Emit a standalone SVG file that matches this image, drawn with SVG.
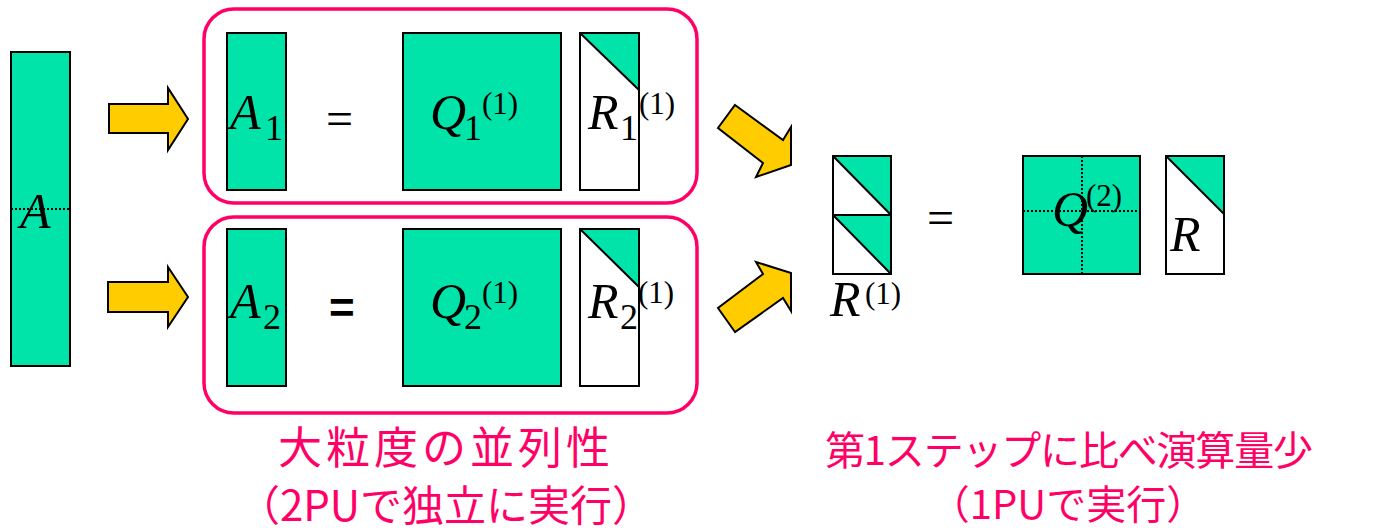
<svg xmlns="http://www.w3.org/2000/svg" width="1400" height="531" viewBox="0 0 1400 531">
<style>
.g{fill:#00E3A9;stroke:#000;stroke-width:2}
.w{fill:#fff;stroke:#000;stroke-width:2}
.t{fill:#00E3A9;stroke:none}
.d{stroke:#000;stroke-width:2}
.o{fill:none;stroke:#000;stroke-width:2}
.dot{stroke:#000;stroke-width:2;stroke-dasharray:2 2;fill:none}
.arr{fill:#FFCC00;stroke:#000;stroke-width:2;stroke-linejoin:miter}
.box{fill:none;stroke:#FF0066;stroke-width:3.5}
.m{font-family:"Liberation Serif",serif;font-style:italic;font-size:50px;fill:#000}
.s{font-family:"Liberation Serif",serif;font-size:36px;fill:#000}
.p{font-family:"Liberation Serif",serif;font-size:31px;fill:#000}
.eq{font-family:"Liberation Serif",serif;font-size:48px;fill:#000}
.eqb{font-family:"Liberation Sans",sans-serif;font-weight:bold;font-size:44px;fill:#000}
.j{font-family:"Noto Sans CJK JP","Noto Sans",sans-serif;font-size:44px;fill:#FF0066;text-anchor:middle}
.j2{font-family:"Noto Sans CJK JP","Noto Sans",sans-serif;font-size:40px;fill:#FF0066;text-anchor:middle}
</style>
<g id="matA">
<rect class="g" x="11" y="52" width="59" height="314"/>
<line class="dot" x1="11" y1="209" x2="70" y2="209"/>
<text class="m" x="20" y="228">A</text>
</g>
<g id="group1">
<rect class="box" x="204" y="9" width="493" height="194" rx="30"/>
<rect class="g" x="227" y="33" width="59" height="157"/>
<text class="m" x="230" y="129">A</text><text class="s" x="265" y="140">1</text>
<text class="eq" x="326" y="135">=</text>
<rect class="g" x="403" y="33" width="158" height="157"/>
<text class="m" x="430" y="129">Q</text><text class="s" x="464" y="140">1</text><text class="p" x="482" y="114">(1)</text>
<rect class="w" x="580" y="33" width="59" height="157"/>
<polygon class="t" points="580,33 639,33 639,90"/>
<line class="d" x1="580" y1="33" x2="639" y2="90"/>
<rect class="o" x="580" y="33" width="59" height="157"/>
<text class="m" x="588" y="129">R</text><text class="s" x="620" y="140">1</text><text class="p" x="639" y="114">(1)</text>
</g>
<g id="group2">
<rect class="box" x="204" y="217" width="493" height="196" rx="30"/>
<rect class="g" x="227" y="229" width="59" height="157"/>
<text class="m" x="230" y="318">A</text><text class="s" x="263" y="329">2</text>
<text class="eqb" x="329" y="323">=</text>
<rect class="g" x="403" y="229" width="158" height="157"/>
<text class="m" x="430" y="318">Q</text><text class="s" x="464" y="329">2</text><text class="p" x="482" y="303">(1)</text>
<rect class="w" x="580" y="229" width="59" height="157"/>
<polygon class="t" points="580,229 639,229 639,287"/>
<line class="d" x1="580" y1="229" x2="639" y2="287"/>
<rect class="o" x="580" y="229" width="59" height="157"/>
<text class="m" x="588" y="318">R</text><text class="s" x="620" y="329">2</text><text class="p" x="638" y="303">(1)</text>
</g>
<g id="connectors">
<polygon class="arr" points="109,104 168,104 168,88 188,119 168,150 168,133 109,133"/>
<polygon class="arr" points="108,282 168,282 168,267 188,297 168,327 168,312 108,312"/>
<polygon class="arr" points="735,105 783,140 791,127 791,165 756,177 763,163 718,128"/>
<polygon class="arr" points="735,332 718,308 763,274 756,262 791,273 791,311 783,298"/>
</g>
<g id="matR1">
<rect class="w" x="833" y="156" width="58" height="118"/>
<polygon class="t" points="833,156 891,156 891,215"/>
<polygon class="t" points="833,215 891,215 891,274"/>
<line class="d" x1="833" y1="156" x2="891" y2="215"/>
<line class="d" x1="833" y1="215" x2="891" y2="274"/>
<line class="d" x1="833" y1="215" x2="891" y2="215"/>
<rect class="o" x="833" y="156" width="58" height="118"/>
<text class="m" x="830" y="316">R</text><text class="p" x="865" y="304">(1)</text>
</g>
<g id="eq3">
<text class="eq" x="927" y="234">=</text>
</g>
<g id="matQ2">
<rect class="g" x="1023" y="156" width="117" height="118"/>
<line class="dot" x1="1082" y1="156" x2="1082" y2="274"/>
<line class="dot" x1="1023" y1="211" x2="1140" y2="211"/>
<text class="m" x="1052" y="226">Q</text><text class="p" x="1086" y="206">(2)</text>
</g>
<g id="matR">
<rect class="w" x="1166" y="156" width="58" height="118"/>
<polygon class="t" points="1166,156 1224,156 1224,214"/>
<line class="d" x1="1166" y1="156" x2="1224" y2="214"/>
<rect class="o" x="1166" y="156" width="58" height="118"/>
<text class="m" x="1170" y="251">R</text>
</g>
<g id="labels">
<text class="j" x="444" y="464" textLength="332" lengthAdjust="spacing">大粒度の並列性</text>
<text class="j" x="446" y="521" style="font-size:42px">（2PUで独立に実行）</text>
<text class="j2" x="1069" y="465" textLength="488" lengthAdjust="spacing">第1ステップに比べ演算量少</text>
<text class="j2" x="1068" y="519">（1PUで実行）</text>
</g>
</svg>
